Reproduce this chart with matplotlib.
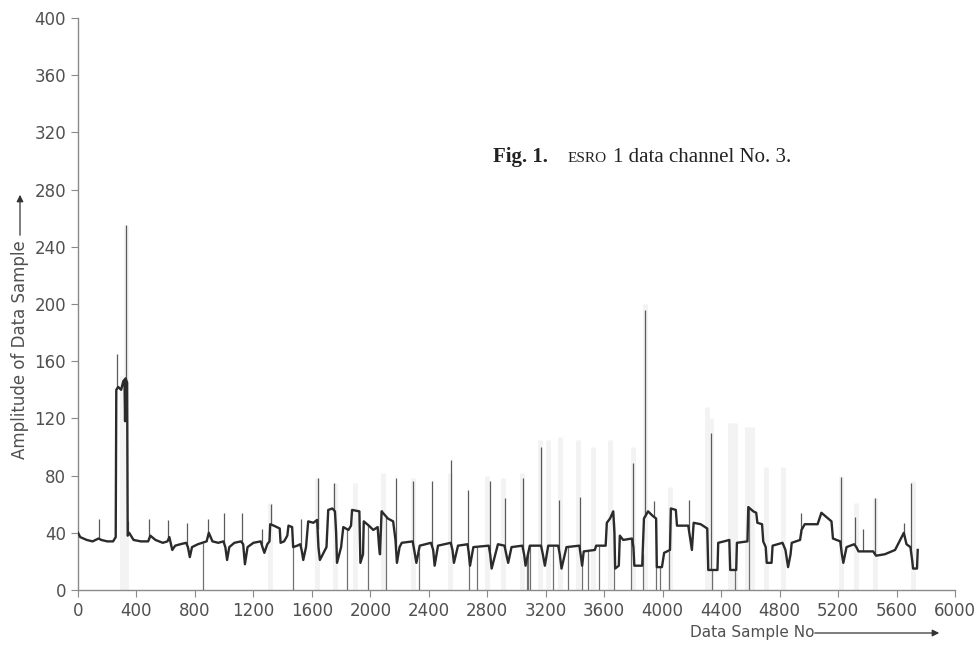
import numpy as np
import matplotlib
matplotlib.use("Agg")
from matplotlib import pyplot as plt

# main trace: levels and dips (sample no, amplitude)
trace_x = [0, 15, 60, 100, 140, 160, 200, 240, 258, 262, 275, 295, 310, 318, 322, 326, 336, 340, 350, 380,
           430, 480, 495, 530, 580, 612, 625, 645, 665, 700, 740, 752, 765, 780, 820, 880, 895, 920, 960, 995,
           1008, 1020, 1035, 1070, 1115, 1130, 1142, 1160, 1200, 1250, 1262, 1275, 1295, 1310, 1315, 1340, 1380, 1386, 1410, 1432,
           1440, 1465, 1472, 1500, 1520, 1530, 1541, 1560, 1575, 1610, 1636, 1645, 1655, 1700, 1712, 1740, 1758, 1766, 1772, 1800,
           1815, 1850, 1868, 1875, 1925, 1932, 1950, 1955, 1990, 2020, 2050, 2060, 2066, 2077, 2120, 2156, 2172, 2182, 2200, 2215,
           2290, 2300, 2315, 2338, 2415, 2430, 2440, 2463, 2550, 2562, 2572, 2600, 2665, 2672, 2682, 2705, 2810, 2820, 2830, 2873,
           2918, 2930, 2943, 2966, 3040, 3052, 3062, 3091, 3168, 3180, 3194, 3217, 3285, 3296, 3308, 3342, 3430, 3440, 3449, 3460,
           3536, 3545, 3610, 3618, 3640, 3662, 3670, 3675, 3700, 3707, 3730, 3790, 3800, 3806, 3860, 3872, 3900, 3930, 3955, 3960,
           3995, 4010, 4050, 4056, 4090, 4098, 4175, 4190, 4200, 4212, 4260, 4305, 4312, 4375, 4380, 4420, 4456, 4462, 4503, 4508,
           4580, 4586, 4620, 4640, 4648, 4680, 4688, 4705, 4712, 4745, 4752, 4820, 4840, 4858, 4875, 4883, 4940, 4950, 4972, 5060,
           5086, 5120, 5155, 5165, 5215, 5226, 5236, 5258, 5310, 5325, 5340, 5440, 5460, 5520, 5590, 5625, 5650, 5668, 5695, 5708,
           5713, 5740, 5745]
trace_y = [40, 37, 35, 34, 36, 35, 34, 34, 37, 140, 142, 140, 146, 147, 118, 148, 145, 38, 40, 35,
           34, 34, 38, 35, 33, 34, 37, 28, 31, 32, 33, 30, 23, 30, 32, 34, 40, 34, 33, 34,
           30, 21, 30, 33, 34, 32, 18, 30, 33, 34, 30, 26, 32, 34, 46, 45, 43, 33, 34, 38,
           45, 44, 30, 31, 32, 28, 21, 30, 48, 47, 49, 30, 21, 30, 56, 57, 55, 40, 19, 30,
           44, 42, 45, 56, 55, 19, 25, 48, 45, 42, 44, 30, 25, 55, 50, 48, 35, 19, 30, 33,
           34, 28, 19, 31, 33, 28, 17, 31, 33, 28, 19, 31, 32, 27, 17, 30, 31, 25, 15, 32,
           31, 25, 19, 30, 31, 25, 17, 31, 31, 25, 17, 31, 31, 25, 15, 30, 31, 24, 17, 27,
           28, 31, 31, 47, 50, 55, 40, 15, 17, 38, 35, 36, 30, 17, 17, 50, 55, 52, 50, 16,
           16, 26, 28, 57, 56, 45, 45, 35, 28, 47, 46, 43, 14, 14, 33, 34, 35, 14, 14, 33,
           34, 58, 55, 54, 47, 46, 34, 30, 19, 19, 31, 33, 28, 16, 25, 33, 35, 42, 46, 46,
           54, 51, 48, 36, 34, 25, 19, 30, 32, 30, 27, 27, 24, 25, 28, 35, 40, 32, 30, 20,
           15, 15, 28]

# thin upward spikes (sample no, peak amplitude)
spike_x = [144, 267, 330, 345, 486, 616, 743, 887, 999, 1122, 1256, 1318, 1525, 1639, 1750, 2077, 2175, 2292,
           2421, 2554, 2668, 2816, 2921, 3046, 3171, 3290, 3433, 3798, 3878, 3940, 4180, 4334, 4945, 5223,
           5314, 5371, 5452, 5650, 5702]
spike_y = [50, 165, 255, 48, 50, 49, 47, 50, 54, 54, 43, 60, 50, 78, 75, 56, 78, 76,
           76, 91, 70, 76, 64, 78, 100, 63, 65, 89, 196, 62, 63, 110, 54, 79,
           51, 43, 64, 47, 75]

# drop-outs to zero
drop_x = [855, 1473, 1838, 1985, 2110, 2330, 2672, 2730, 3070, 3080, 3092, 3250, 3350, 3447, 3488,
          3567, 3666, 3783, 3863, 3955, 3985, 4040, 4335, 4494, 4593]

# faint grey streaks (sample no, top)
ghost_x = [300, 330, 1313, 1632, 1758, 1895, 2087, 2292, 2544, 2795, 2907, 3035, 3160, 3215, 3297, 3420,
           3523, 3640, 3797, 3878, 4049, 4300, 4334, 4460, 4494, 4574, 4608, 4710, 4822, 5223, 5326,
           5452, 5711]
ghost_y = [150, 255, 61, 78, 75, 75, 82, 78, 82, 80, 78, 82, 105, 105, 107, 105,
           100, 105, 100, 200, 72, 128, 120, 117, 117, 114, 114, 86, 86, 80, 61,
           64, 76]

xticks = list(range(0, 6001, 400))
yticks = list(range(0, 401, 40))

fig = plt.figure(figsize=(9.76, 6.47), dpi=100)
ax = fig.add_axes([78/976, 57/647, 877/976, 572/647])
ax.set_xlim(0, 6000)
ax.set_ylim(0, 400)

ax.vlines(ghost_x, 0, ghost_y, color='#f3f3f3', lw=3.5, zorder=1)
base_s = np.interp(spike_x, trace_x, trace_y)
ax.vlines(spike_x, base_s, spike_y, color='#5a5a5a', lw=0.9, zorder=3)
base_d = np.interp(drop_x, trace_x, trace_y)
ax.vlines(drop_x, 0, base_d, color='#707070', lw=0.9, zorder=3)
ax.plot(trace_x, trace_y, color='#2b2b2b', lw=1.7, zorder=4)

for s in ['top', 'right']:
    ax.spines[s].set_visible(False)
for s in ['left', 'bottom']:
    ax.spines[s].set_color('#8a8a8a')
    ax.spines[s].set_linewidth(1.0)
ax.set_xticks(xticks)
ax.set_yticks(yticks)
ax.tick_params(direction='out', length=5, width=0.8, color='#8a8a8a',
               labelcolor='#505050', labelsize=12)
ax.tick_params(axis='x', pad=4)

fig.text(20/976, 1 - 350/647, 'Amplitude of Data Sample', rotation=90,
         ha='center', va='center', fontsize=12, color='#505050')
fig.add_artist(matplotlib.patches.FancyArrowPatch(
    (20/976, 1 - 238/647), (20/976, 1 - 192/647), transform=fig.transFigure,
    arrowstyle='-|>', mutation_scale=10, color='#333333', lw=0.9))

fig.text(690/976, 1 - 632/647, 'Data Sample No', ha='left', va='center',
         fontsize=11, color='#505050')
fig.add_artist(matplotlib.patches.FancyArrowPatch(
    (812/976, 1 - 633/647), (942/976, 1 - 633/647), transform=fig.transFigure,
    arrowstyle='-|>', mutation_scale=10, color='#333333', lw=0.9))

serif = ['Liberation Serif', 'DejaVu Serif']
fig.text(493/976, 1 - 162/647, 'Fig. 1.', ha='left', va='baseline',
         fontsize=15, fontweight='bold', family=serif, color='#222222')
fig.text(568/976, 1 - 162/647, 'ESRO', ha='left', va='baseline',
         fontsize=11, family=serif, color='#222222')
fig.text(613/976, 1 - 162/647, '1 data channel No. 3.', ha='left', va='baseline',
         fontsize=15, family=serif, color='#222222')

fig.savefig('out.png', dpi=100)
